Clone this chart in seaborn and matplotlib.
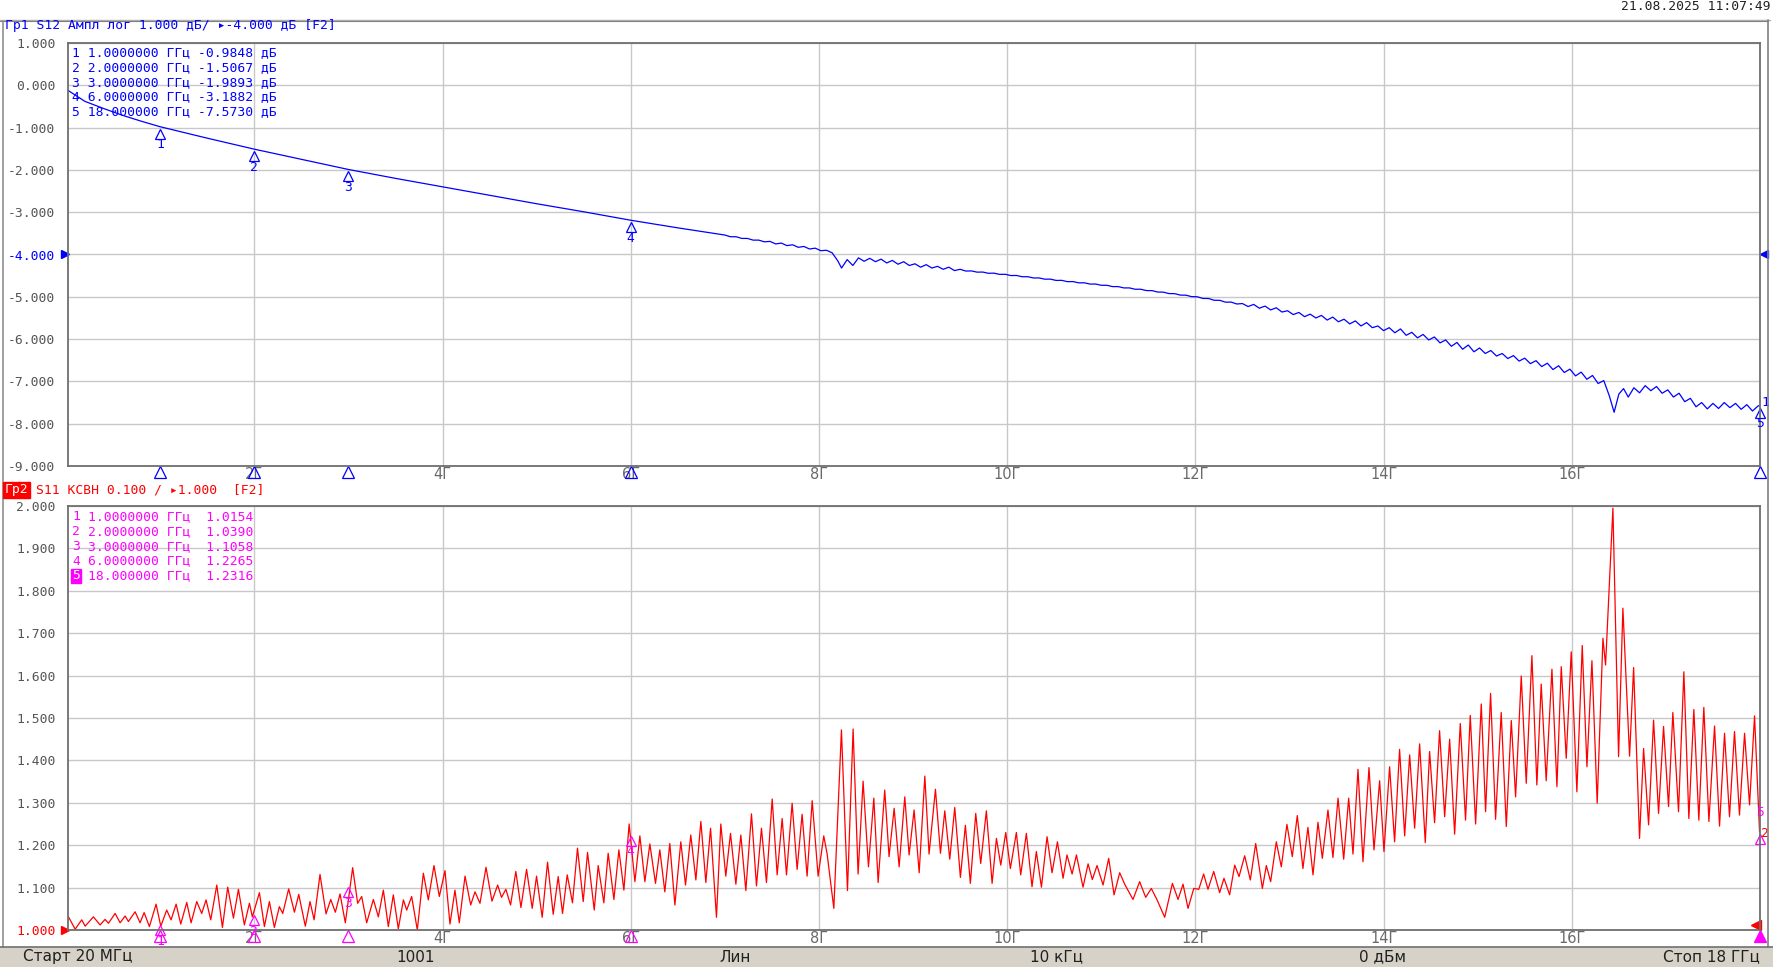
import matplotlib
matplotlib.use("Agg")
import matplotlib.pyplot as plt
import seaborn as sns
from matplotlib.transforms import offset_copy, blended_transform_factory
from matplotlib.lines import Line2D
from matplotlib.patches import Rectangle

# ---- data ----
# S12 transmission (dB) vs frequency (GHz)
s12_ghz = [0.02, 0.2, 0.4, 0.6, 0.8, 1.0, 1.5, 2.0, 2.5, 3.0, 3.5, 4.0, 4.5, 5.0,
           5.5, 6.0, 6.5,
           7.00, 7.06, 7.12, 7.18, 7.24, 7.30, 7.36, 7.42, 7.48, 7.54, 7.60, 7.66,
           7.72, 7.78, 7.84, 7.90, 7.96, 8.02, 8.08, 8.14, 8.20, 8.24, 8.30, 8.36,
           8.42, 8.48, 8.54, 8.60, 8.66, 8.72, 8.78, 8.84, 8.90, 8.96, 9.02, 9.08,
           9.14, 9.20, 9.26, 9.32, 9.38, 9.44, 9.50, 9.56, 9.62, 9.68, 9.74, 9.80,
           9.86, 9.92, 9.98, 10.04, 10.10, 10.16, 10.22, 10.28, 10.34, 10.40, 10.46,
           10.52, 10.58, 10.64, 10.70, 10.76, 10.82, 10.88, 10.94, 11.00, 11.06,
           11.12, 11.18, 11.24, 11.30, 11.36, 11.42, 11.48, 11.54, 11.60, 11.66,
           11.72, 11.78, 11.84, 11.90, 11.96, 12.02, 12.08, 12.14, 12.20, 12.26,
           12.32, 12.38, 12.44, 12.50, 12.56, 12.62, 12.68, 12.74, 12.80, 12.86,
           12.92, 12.98, 13.04, 13.10, 13.16, 13.22, 13.28, 13.34, 13.40, 13.46,
           13.52, 13.58, 13.64, 13.70, 13.76, 13.82, 13.88, 13.94, 14.00, 14.06,
           14.12, 14.18, 14.24, 14.30, 14.36, 14.42, 14.48, 14.54, 14.60, 14.66,
           14.72, 14.78, 14.84, 14.90, 14.96, 15.02, 15.08, 15.14, 15.20, 15.26,
           15.32, 15.38, 15.44, 15.50, 15.56, 15.62, 15.68, 15.74, 15.80, 15.86,
           15.92, 15.98, 16.04, 16.10, 16.16, 16.22, 16.28, 16.34, 16.40, 16.45,
           16.50, 16.55, 16.60, 16.66, 16.72, 16.78, 16.84, 16.90, 16.96, 17.02,
           17.08, 17.14, 17.20, 17.26, 17.32, 17.38, 17.44, 17.50, 17.56, 17.62,
           17.68, 17.74, 17.80, 17.86, 17.92, 17.98, 18.00]
s12_db = [-0.12, -0.38, -0.55, -0.71, -0.85, -0.98, -1.25, -1.51, -1.75, -1.99,
          -2.2, -2.4, -2.6, -2.8, -2.99, -3.19, -3.37,
          -3.54, -3.58, -3.58, -3.62, -3.62, -3.66, -3.66, -3.70, -3.69, -3.75,
          -3.73, -3.79, -3.77, -3.83, -3.81, -3.87, -3.85, -3.91, -3.90, -3.96,
          -4.15, -4.32, -4.12, -4.26, -4.08, -4.16, -4.09, -4.17, -4.11, -4.20,
          -4.14, -4.23, -4.17, -4.26, -4.22, -4.30, -4.24, -4.32, -4.28, -4.35,
          -4.30, -4.38, -4.35, -4.391, -4.388, -4.417, -4.415, -4.444, -4.441, -4.470,
          -4.468, -4.498, -4.496, -4.526, -4.525, -4.555, -4.554, -4.584, -4.582, -4.613,
          -4.611, -4.642, -4.640, -4.670, -4.669, -4.699, -4.698, -4.728, -4.728, -4.759,
          -4.759, -4.790, -4.790, -4.822, -4.821, -4.853, -4.854, -4.888, -4.890, -4.924,
          -4.926, -4.960, -4.962, -4.996, -4.999, -5.039, -5.040, -5.082, -5.084, -5.127,
          -5.125, -5.170, -5.160, -5.23, -5.18, -5.27, -5.22, -5.31, -5.26, -5.36,
          -5.33, -5.42, -5.37, -5.47, -5.41, -5.50, -5.44, -5.55, -5.48, -5.59,
          -5.53, -5.64, -5.57, -5.69, -5.61, -5.73, -5.69, -5.80, -5.73, -5.85,
          -5.76, -5.91, -5.84, -5.97, -5.89, -6.02, -5.95, -6.09, -6.02, -6.17,
          -6.08, -6.24, -6.14, -6.30, -6.21, -6.34, -6.27, -6.40, -6.34, -6.46,
          -6.39, -6.52, -6.45, -6.58, -6.51, -6.65, -6.57, -6.72, -6.63, -6.79,
          -6.71, -6.87, -6.78, -6.95, -6.86, -7.05, -6.98, -7.35, -7.73, -7.30,
          -7.17, -7.37, -7.15, -7.27, -7.10, -7.22, -7.12, -7.28, -7.20, -7.37,
          -7.28, -7.48, -7.40, -7.60, -7.50, -7.65, -7.52, -7.64, -7.50, -7.62,
          -7.52, -7.66, -7.55, -7.70, -7.58, -7.57]

# S11 VSWR vs frequency (GHz), ripple peaks and valleys
s11_ghz = [0.020, 0.096, 0.166, 0.202, 0.290, 0.361, 0.414, 0.450, 0.521, 0.574,
           0.627, 0.662, 0.733, 0.786, 0.829, 0.885, 0.956, 1.006, 1.069, 1.115,
           1.169, 1.218, 1.282, 1.328, 1.388, 1.441, 1.487, 1.537, 1.601, 1.661,
           1.717, 1.778, 1.831, 1.894, 1.948, 1.979, 2.054, 2.107, 2.160, 2.213,
           2.266, 2.302, 2.365, 2.426, 2.472, 2.542, 2.592, 2.635, 2.698, 2.762,
           2.812, 2.861, 2.911, 2.967, 3.045, 3.098, 3.141, 3.194, 3.265, 3.318,
           3.371, 3.424, 3.477, 3.530, 3.584, 3.619, 3.672, 3.732, 3.796, 3.849,
           3.909, 3.966, 4.026, 4.079, 4.132, 4.178, 4.239, 4.299, 4.345, 4.398,
           4.462, 4.525, 4.586, 4.627, 4.673, 4.723, 4.779, 4.833, 4.893, 4.953,
           4.999, 5.059, 5.116, 5.176, 5.229, 5.275, 5.325, 5.381, 5.434, 5.495,
           5.541, 5.612, 5.654, 5.714, 5.760, 5.821, 5.874, 5.927, 5.983, 6.044,
           6.097, 6.150, 6.203, 6.263, 6.309, 6.362, 6.415, 6.469, 6.532, 6.582,
           6.638, 6.692, 6.745, 6.798, 6.848, 6.911, 6.957, 7.010, 7.060, 7.117,
           7.170, 7.223, 7.283, 7.336, 7.389, 7.442, 7.503, 7.556, 7.609, 7.655,
           7.715, 7.768, 7.821, 7.874, 7.928, 7.991, 8.051, 8.087, 8.158, 8.239,
           8.303, 8.363, 8.416, 8.469, 8.526, 8.583, 8.629, 8.699, 8.745, 8.799,
           8.852, 8.912, 8.958, 9.011, 9.065, 9.125, 9.170, 9.238, 9.291, 9.337,
           9.390, 9.443, 9.503, 9.556, 9.609, 9.666, 9.719, 9.779, 9.840, 9.886,
           9.932, 9.985, 10.034, 10.098, 10.144, 10.204, 10.264, 10.310, 10.364, 10.424,
           10.477, 10.534, 10.594, 10.636, 10.690, 10.736, 10.806, 10.860, 10.905, 10.955,
           11.019, 11.079, 11.136, 11.196, 11.249, 11.337, 11.408, 11.472, 11.532, 11.593,
           11.674, 11.756, 11.816, 11.869, 11.922, 11.983, 12.036, 12.088, 12.134, 12.195,
           12.258, 12.304, 12.364, 12.418, 12.464, 12.524, 12.584, 12.641, 12.712, 12.754,
           12.800, 12.860, 12.913, 12.973, 13.030, 13.083, 13.143, 13.196, 13.250, 13.303,
           13.349, 13.409, 13.462, 13.516, 13.576, 13.629, 13.675, 13.728, 13.781, 13.845,
           13.898, 13.958, 14.004, 14.064, 14.117, 14.170, 14.224, 14.277, 14.330, 14.383,
           14.443, 14.489, 14.542, 14.595, 14.649, 14.702, 14.755, 14.815, 14.871, 14.921,
           14.978, 15.038, 15.084, 15.137, 15.190, 15.250, 15.304, 15.357, 15.403, 15.463,
           15.516, 15.576, 15.629, 15.675, 15.728, 15.789, 15.842, 15.888, 15.941, 15.994,
           16.054, 16.111, 16.161, 16.214, 16.270, 16.331, 16.359, 16.437, 16.497, 16.543,
           16.614, 16.657, 16.720, 16.763, 16.816, 16.869, 16.922, 16.975, 17.028, 17.074,
           17.134, 17.191, 17.244, 17.297, 17.350, 17.403, 17.457, 17.517, 17.570, 17.623,
           17.676, 17.729, 17.782, 17.836, 17.889, 17.942, 17.995]
s11_vswr = [1.033, 1.002, 1.024, 1.009, 1.031, 1.012, 1.025, 1.016, 1.039, 1.017,
            1.033, 1.020, 1.043, 1.017, 1.041, 1.008, 1.061, 1.009, 1.047, 1.024,
            1.061, 1.014, 1.065, 1.017, 1.067, 1.039, 1.071, 1.024, 1.106, 1.006,
            1.101, 1.028, 1.096, 1.012, 1.063, 1.031, 1.088, 1.008, 1.067, 1.006,
            1.055, 1.039, 1.097, 1.042, 1.084, 1.009, 1.067, 1.024, 1.131, 1.038,
            1.072, 1.042, 1.085, 1.017, 1.147, 1.063, 1.079, 1.017, 1.072, 1.031,
            1.094, 1.008, 1.083, 1.003, 1.071, 1.047, 1.079, 1.000, 1.134, 1.071,
            1.152, 1.079, 1.140, 1.014, 1.094, 1.017, 1.127, 1.059, 1.090, 1.063,
            1.148, 1.068, 1.106, 1.077, 1.096, 1.059, 1.138, 1.053, 1.143, 1.051,
            1.127, 1.030, 1.160, 1.037, 1.126, 1.039, 1.130, 1.064, 1.193, 1.067,
            1.183, 1.047, 1.152, 1.064, 1.181, 1.072, 1.189, 1.094, 1.250, 1.114,
            1.222, 1.114, 1.203, 1.110, 1.189, 1.090, 1.204, 1.059, 1.208, 1.106,
            1.224, 1.118, 1.256, 1.112, 1.240, 1.030, 1.250, 1.127, 1.228, 1.108,
            1.224, 1.093, 1.274, 1.104, 1.240, 1.112, 1.309, 1.130, 1.263, 1.130,
            1.299, 1.143, 1.273, 1.127, 1.305, 1.127, 1.222, 1.179, 1.051, 1.472,
            1.093, 1.474, 1.132, 1.351, 1.149, 1.311, 1.112, 1.330, 1.173, 1.287,
            1.149, 1.314, 1.177, 1.283, 1.135, 1.363, 1.179, 1.332, 1.181, 1.281,
            1.167, 1.289, 1.124, 1.247, 1.110, 1.275, 1.157, 1.281, 1.110, 1.216,
            1.153, 1.230, 1.145, 1.230, 1.130, 1.228, 1.102, 1.185, 1.101, 1.220,
            1.135, 1.208, 1.122, 1.177, 1.132, 1.177, 1.101, 1.156, 1.119, 1.152,
            1.106, 1.169, 1.083, 1.135, 1.108, 1.072, 1.114, 1.077, 1.098, 1.071,
            1.030, 1.110, 1.072, 1.108, 1.051, 1.098, 1.096, 1.132, 1.096, 1.138,
            1.088, 1.122, 1.083, 1.153, 1.126, 1.175, 1.118, 1.204, 1.098, 1.152,
            1.114, 1.208, 1.149, 1.249, 1.173, 1.270, 1.145, 1.242, 1.130, 1.254,
            1.169, 1.283, 1.171, 1.311, 1.167, 1.311, 1.179, 1.379, 1.161, 1.383,
            1.189, 1.352, 1.185, 1.385, 1.208, 1.426, 1.222, 1.413, 1.240, 1.439,
            1.206, 1.421, 1.253, 1.470, 1.267, 1.450, 1.226, 1.487, 1.259, 1.506,
            1.250, 1.533, 1.279, 1.558, 1.261, 1.513, 1.244, 1.494, 1.314, 1.599,
            1.346, 1.647, 1.342, 1.580, 1.352, 1.615, 1.338, 1.621, 1.405, 1.656,
            1.326, 1.671, 1.385, 1.635, 1.299, 1.688, 1.625, 1.995, 1.409, 1.759,
            1.410, 1.619, 1.216, 1.428, 1.248, 1.495, 1.275, 1.480, 1.291, 1.513,
            1.279, 1.609, 1.263, 1.520, 1.259, 1.525, 1.256, 1.481, 1.245, 1.464,
            1.267, 1.468, 1.271, 1.464, 1.295, 1.505, 1.232]

marker_ghz = [1.0, 2.0, 3.0, 6.0, 18.0]
marker_s12 = [-0.9848, -1.5067, -1.9893, -3.1882, -7.5730]
marker_s11 = [1.0154, 1.0390, 1.1058, 1.2265, 1.2316]
x_ticks = [2, 4, 6, 8, 10, 12, 14, 16]
s12_yticks = [1.0, 0.0, -1.0, -2.0, -3.0, -4.0, -5.0, -6.0, -7.0, -8.0, -9.0]
s11_yticks = [1.0, 1.1, 1.2, 1.3, 1.4, 1.5, 1.6, 1.7, 1.8, 1.9, 2.0]
status_items = ["Старт 20 МГц", "1001", "Лин", "10 кГц", "0 дБм", "Стоп 18 ГГц"]

# ---- style ----
sns.set_style("white")
plt.rcParams["axes.unicode_minus"] = False
MONO = ["DejaVu Sans Mono"]
NARROW = ["Liberation Sans Narrow", "DejaVu Sans"]
plt.rcParams["font.family"] = MONO

BLUE = "#0000ff"
RED = "#ff0000"
MAG = "#ff00ff"
GRID = "#c8c8c8"
W, H = 1774, 967
FS = 9.4

fig = plt.figure(figsize=(W / 100, H / 100), dpi=100)
fig.patch.set_facecolor("white")


def px_rect(l, t, r, b):
    return [l / W, 1 - b / H, (r - l) / W, (b - t) / H]


def ftxt(x, y, s, **kw):
    kw.setdefault("va", "center")
    kw.setdefault("fontsize", FS)
    return fig.text(x / W, 1 - y / H, s, **kw)


def fline(x0, y0, x1, y1, **kw):
    fig.add_artist(Line2D([x0 / W, x1 / W], [1 - y0 / H, 1 - y1 / H],
                          transform=fig.transFigure, **kw))


ax1 = fig.add_axes(px_rect(68, 43, 1760, 466))
ax2 = fig.add_axes(px_rect(68, 506, 1760, 930))

sns.lineplot(x=s12_ghz, y=s12_db, ax=ax1, color=BLUE, lw=0.9,
             estimator=None, sort=False, legend=False)
sns.lineplot(x=s11_ghz, y=s11_vswr, ax=ax2, color=RED, lw=0.9,
             estimator=None, sort=False, legend=False)

for ax, yt, lim in [(ax1, s12_yticks, (-9, 1)), (ax2, s11_yticks, (1, 2))]:
    ax.set_xlim(0.02, 18)
    ax.set_ylim(*lim)
    ax.set_xticks(x_ticks)
    ax.set_xticklabels([f"{v}Г" for v in x_ticks])
    ax.set_yticks(yt)
    ax.set_yticklabels([f"{v:.3f}" for v in yt])
    ax.tick_params(axis="both", length=0, labelsize=FS, labelcolor="#555555")
    ax.tick_params(axis="y", pad=9)
    ax.tick_params(axis="x", pad=1)
    for lbl in ax.get_xticklabels():
        lbl.set_fontfamily(NARROW)
        lbl.set_fontsize(10.5)
        lbl.set_color("#6a6a6a")
    ax.grid(True, color=GRID, lw=1.0)
    ax.set_axisbelow(True)
    for sp in ax.spines.values():
        sp.set_color("#6e6e6e")
        sp.set_linewidth(1.3)
    ax.set_xlabel("")
    ax.set_ylabel("")

ax1.get_yticklabels()[5].set_color(BLUE)
ax2.get_yticklabels()[0].set_color(RED)

# reference level pointers
for ax, yref, col in [(ax1, -4.0, BLUE), (ax2, 1.0, RED)]:
    tr = blended_transform_factory(ax.transAxes, ax.transData)
    ax.plot([0], [yref], marker=">", color=col, ms=6, clip_on=False,
            transform=offset_copy(tr, fig=fig, x=-3, units="dots"))
ax1.plot([1], [-4.0], marker="<", color=BLUE, ms=6, clip_on=False,
         transform=offset_copy(blended_transform_factory(ax1.transAxes, ax1.transData),
                               fig=fig, x=4, units="dots"))
ax2.plot([1], [1.0], marker="<", color=RED, ms=7, clip_on=False,
         transform=offset_copy(blended_transform_factory(ax2.transAxes, ax2.transData),
                               fig=fig, x=-4, y=5, units="dots"))

# markers on traces and stimulus pointers under the axes
for ax, vals, col in [(ax1, marker_s12, BLUE), (ax2, marker_s11, MAG)]:
    tri_tr = offset_copy(ax.transData, fig=fig, y=-7, units="dots")
    num_tr = offset_copy(ax.transData, fig=fig, y=-18, units="dots")
    bot_tr = offset_copy(blended_transform_factory(ax.transData, ax.transAxes),
                         fig=fig, y=-6, units="dots")
    for i, (f, v) in enumerate(zip(marker_ghz, vals)):
        last = i == len(marker_ghz) - 1
        ax.plot([f], [v], marker="^", mfc="none", mec=col, mew=0.9, ms=7,
                transform=tri_tr, clip_on=False)
        if not (last and ax is ax2):
            ax.text(f, v, str(i + 1), transform=num_tr, color=col, fontsize=FS,
                    ha="center", va="center", clip_on=False)
        filled = last and ax is ax2
        ax.plot([f], [0], marker="^", mfc=col if filled else "none", mec=col,
                mew=0.9, ms=8, transform=bot_tr, clip_on=False)

ax1.text(18, -7.573, "1", transform=offset_copy(ax1.transData, fig=fig, x=5, y=3, units="dots"),
         color=BLUE, fontsize=FS, ha="center", va="center", clip_on=False)
ax2.text(18, 1.2316, "5", transform=offset_copy(ax2.transData, fig=fig, x=0, y=19, units="dots"),
         color=MAG, fontsize=FS, ha="center", va="center", clip_on=False)
ax2.text(18, 1.2316, "2", transform=offset_copy(ax2.transData, fig=fig, x=5, y=-2, units="dots"),
         color=RED, fontsize=FS, ha="center", va="center", clip_on=False)

# marker tables
s12_rows = [f"{i + 1} {f:>9.7f} ГГц {v:.4f} дБ" if f < 10 else f"{i + 1} {f:.6f} ГГц {v:.4f} дБ"
            for i, (f, v) in enumerate(zip(marker_ghz, marker_s12))]
for i, row in enumerate(s12_rows):
    ftxt(72, 53 + 14.7 * i, row, color=BLUE)

s11_rows = [f"{f:.7f} ГГц  {v:.4f}" if f < 10 else f"{f:.6f} ГГц  {v:.4f}"
            for f, v in zip(marker_ghz, marker_s11)]
for i, row in enumerate(s11_rows):
    y = 517 + 14.7 * i
    if i == 4:
        ftxt(72, y, "5", color="white",
             bbox=dict(boxstyle="square,pad=0.05", fc=MAG, ec=MAG))
    else:
        ftxt(72, y, str(i + 1), color=MAG)
    ftxt(72 + 2 * 7.94, y, row, color=MAG)

# channel headers
ftxt(5, 25, "Гр1 S12 Ампл лог 1.000 дБ/ ▸-4.000 дБ [F2]", color=BLUE)
ftxt(5, 490, "Гр2", color="white",
     bbox=dict(boxstyle="square,pad=0.12", fc=RED, ec=RED))
ftxt(36, 490, "S11 КСВН 0.100 / ▸1.000  [F2]", color=RED)

# date stamp
ftxt(1771, 6, "21.08.2025 11:07:49", color="#202020", ha="right")

# window frame
fline(0, 19.5, 1770, 19.5, color="#b0b0b0", lw=1.0)
fline(0, 21, 1768, 21, color="#808080", lw=0.8)
fline(3, 21, 3, 947, color="#909090", lw=1.2)
fline(1768.5, 19.5, 1768.5, 947, color="#808080", lw=1.2)

# status bar
fig.add_artist(Rectangle((0, 0), 1, 20 / H, transform=fig.transFigure,
                         fc="#d6d2c8", ec="none"))
fline(0, 947, 1774, 947, color="#707070", lw=1.2)
status_x = [23, 416, 735, 1056, 1383, 1760]
status_ha = ["left", "center", "center", "center", "center", "right"]
for s, x, ha in zip(status_items, status_x, status_ha):
    ftxt(x, 957, s, color="#202020", ha=ha, fontfamily=NARROW, fontsize=11)

fig.savefig("out.png", dpi=100, facecolor="white")
